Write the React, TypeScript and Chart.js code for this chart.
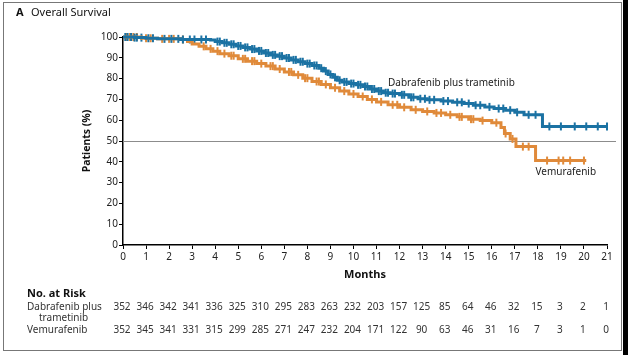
import React, { useEffect, useRef } from "react";
import { Chart, registerables } from "chart.js";

Chart.register(...registerables);

// ---- data ----
const monthTicks = [0, 1, 2, 3, 4, 5, 6, 7, 8, 9, 10, 11, 12, 13, 14, 15, 16, 17, 18, 19, 20, 21];
const riskDabTram = [352, 346, 342, 341, 336, 325, 310, 295, 283, 263, 232, 203, 157, 125, 85, 64, 46, 32, 15, 3, 2, 1];
const riskVemu = [352, 345, 341, 331, 315, 299, 285, 271, 247, 232, 204, 171, 122, 90, 63, 46, 31, 16, 7, 3, 1, 0];

const dabTimes = [0, 0.5, 1.0, 1.5, 2.5, 3.8, 4.0, 4.3, 4.6, 4.9, 5.2, 5.5, 5.8, 6.1, 6.4, 6.7, 7.0, 7.3, 7.6, 7.9, 8.2, 8.5, 8.7, 8.9, 9.1, 9.3, 9.5, 9.8, 10.1, 10.4, 10.7, 11.0, 11.3, 11.6, 12.0, 12.4, 12.8, 13.2, 13.8, 14.3, 14.8, 15.2, 15.7, 16.1, 16.6, 17.0, 17.4, 18.2, 21.0];
const dabSurv = [100, 99.7, 99.4, 99.1, 98.8, 98.5, 97.8, 97.2, 96.5, 95.7, 95.0, 94.2, 93.3, 92.3, 91.4, 90.8, 89.9, 89.0, 88.1, 87.2, 86.3, 85.0, 83.6, 82.0, 80.6, 79.2, 78.4, 77.6, 77.0, 76.2, 75.0, 74.0, 73.2, 72.8, 72.2, 71.0, 70.3, 69.8, 69.2, 68.6, 68.0, 67.2, 66.4, 65.6, 64.8, 63.8, 62.6, 57.0, 57.0];

const vemTimes = [0, 0.8, 1.5, 2.5, 2.8, 3.0, 3.3, 3.6, 3.9, 4.2, 4.6, 5.0, 5.4, 5.8, 6.2, 6.6, 7.0, 7.4, 7.8, 8.2, 8.6, 9.0, 9.4, 9.8, 10.2, 10.6, 11.0, 11.5, 12.0, 12.5, 13.0, 13.5, 14.0, 14.5, 15.0, 15.5, 16.0, 16.4, 16.55, 16.8, 17.05, 17.9, 20.1];
const vemSurv = [100, 99.4, 99.1, 98.8, 97.8, 96.6, 95.5, 94.3, 93.2, 92.0, 91.0, 89.5, 88.4, 87.2, 86.0, 84.6, 83.2, 81.8, 80.2, 78.6, 77.2, 75.6, 74.0, 72.6, 71.4, 70.0, 68.8, 67.4, 66.2, 65.0, 64.2, 63.5, 62.6, 61.6, 60.5, 59.8, 58.8, 56.5, 53.6, 51.0, 47.3, 40.6, 40.6];

const dabCensor = [0.1, 0.2, 0.35, 0.5, 0.6, 0.8, 1.1, 1.3, 1.8, 2.1, 2.4, 2.6, 2.9, 3.1, 3.4, 3.6, 4.1, 4.2, 4.4, 4.5, 4.7, 4.8, 5.0, 5.1, 5.3, 5.4, 5.6, 5.7, 5.9, 6.0, 6.2, 6.3, 6.5, 6.6, 6.8, 6.9, 7.1, 7.2, 7.4, 7.5, 7.7, 7.8, 8.0, 8.1, 8.3, 8.4, 8.6, 8.8, 9.0, 9.2, 9.4, 9.6, 9.7, 9.9, 10.0, 10.2, 10.3, 10.5, 10.6, 10.8, 10.9, 11.1, 11.2, 11.4, 11.5, 11.7, 11.8, 12.1, 12.2, 12.5, 12.6, 12.9, 13.1, 13.3, 13.5, 13.9, 14.1, 14.5, 14.7, 15.0, 15.3, 15.5, 15.9, 16.3, 16.5, 16.8, 17.1, 17.6, 17.9, 18.5, 19.0, 19.6, 20.1, 20.6, 21.0];
const vemCensor = [0.15, 0.3, 0.45, 0.6, 1.0, 1.2, 1.7, 2.0, 2.2, 2.6, 3.5, 3.8, 4.1, 4.4, 4.7, 4.8, 5.2, 5.3, 5.6, 5.7, 6.0, 6.4, 6.5, 6.8, 7.2, 7.3, 7.6, 7.9, 8.0, 8.4, 8.5, 8.8, 9.2, 9.6, 10.0, 10.4, 10.8, 11.2, 11.7, 11.9, 12.2, 12.7, 13.2, 13.6, 13.8, 14.2, 14.6, 14.7, 15.1, 15.2, 15.6, 16.2, 16.6, 16.9, 17.35, 17.6, 18.4, 18.9, 19.1, 19.4, 20.0];

const refLine = 50;
const BLUE = "#1b72a3";
const ORANGE = "#e08a3a";
const FONT = "'Noto Sans', 'Liberation Sans', sans-serif";

function stepValue(times: number[], surv: number[], t: number) {
  let v = surv[0];
  for (let i = 0; i < times.length; i++) {
    if (times[i] <= t) v = surv[i];
  }
  return v;
}

const pts = (times: number[], surv: number[]) => times.map((t, i) => ({ x: t, y: surv[i] }));
const cens = (c: number[], times: number[], surv: number[]) => c.map((t) => ({ x: t, y: stepValue(times, surv, t) }));

const overlay = {
  id: "overlay",
  beforeDatasetsDraw(chart: any) {
    const { ctx, chartArea, scales } = chart;
    const py = Math.round(scales.y.getPixelForValue(refLine)) + 0.5;
    ctx.save();
    ctx.strokeStyle = "#8c8c8c";
    ctx.lineWidth = 1;
    ctx.beginPath();
    ctx.moveTo(chartArea.left, py);
    ctx.lineTo(chartArea.right + 9, py);
    ctx.stroke();
    ctx.restore();
  },
  afterDraw(chart: any) {
    const { ctx, scales } = chart;
    const x = scales.x;
    const y = scales.y;
    ctx.save();
    // frame
    ctx.strokeStyle = "#777";
    ctx.lineWidth = 1;
    ctx.strokeRect(3.5, 2.5, 618, 348);
    ctx.fillStyle = "#000";
    ctx.fillRect(623, 0, 5, 355);
    // title
    ctx.fillStyle = "#111";
    ctx.textBaseline = "middle";
    ctx.textAlign = "left";
    ctx.font = `bold 11px ${FONT}`;
    ctx.fillText("A", 16, 13);
    ctx.font = `11px ${FONT}`;
    ctx.fillText("Overall Survival", 31, 13);
    // curve labels
    ctx.font = `10px ${FONT}`;
    ctx.fillStyle = "#222";
    ctx.fillText("Dabrafenib plus trametinib", x.getPixelForValue(11.5), y.getPixelForValue(77.8));
    ctx.fillText("Vemurafenib", x.getPixelForValue(17.9), y.getPixelForValue(34.8));
    // risk table
    ctx.font = `bold 11px ${FONT}`;
    ctx.fillStyle = "#111";
    ctx.fillText("No. at Risk", 27, 294);
    ctx.font = `10px ${FONT}`;
    ctx.fillStyle = "#333";
    ctx.fillText("Dabrafenib plus", 27, 307);
    ctx.fillText("trametinib", 39, 318);
    ctx.fillText("Vemurafenib", 27, 330);
    ctx.textAlign = "center";
    monthTicks.forEach((m, i) => {
      const px = x.getPixelForValue(m) - 1;
      ctx.fillText(String(riskDabTram[i]), px, 307);
      ctx.fillText(String(riskVemu[i]), px, 330);
    });
    ctx.restore();
  },
};

export default function App() {
  const ref = useRef<HTMLCanvasElement>(null);
  useEffect(() => {
    if (!ref.current) return;
    const chart = new Chart(ref.current, {
      type: "line",
      data: {
        datasets: [
          {
            label: "Dabrafenib plus trametinib",
            data: pts(dabTimes, dabSurv),
            borderColor: BLUE,
            borderWidth: 3,
            stepped: "before",
            pointRadius: 0,
            fill: false,
            clip: 8,
          } as any,
          {
            label: "Vemurafenib",
            data: pts(vemTimes, vemSurv),
            borderColor: ORANGE,
            borderWidth: 3,
            stepped: "before",
            pointRadius: 0,
            fill: false,
            clip: 8,
          } as any,
          {
            label: "DT censor",
            data: cens(dabCensor, dabTimes, dabSurv),
            showLine: false,
            pointStyle: "line",
            rotation: 90,
            pointRadius: 4,
            borderColor: BLUE,
            borderWidth: 2,
            clip: 8,
          } as any,
          {
            label: "V censor",
            data: cens(vemCensor, vemTimes, vemSurv),
            showLine: false,
            pointStyle: "line",
            rotation: 90,
            pointRadius: 4,
            borderColor: ORANGE,
            borderWidth: 2,
            clip: 8,
          } as any,
        ],
      },
      options: {
        responsive: false,
        animation: false,
        layout: { padding: { left: 77, top: 37, right: 21, bottom: 70 } },
        plugins: { legend: { display: false }, tooltip: { enabled: false }, title: { display: false } },
        scales: {
          x: {
            type: "linear",
            min: 0,
            max: 21,
            afterFit: (s: any) => {
              s.height = 40;
            },
            ticks: { stepSize: 1, color: "#222", font: { family: FONT, size: 10 }, padding: 2, maxRotation: 0 },
            grid: { drawOnChartArea: false, tickLength: 4, color: "#000", tickColor: "#000" },
            border: { color: "#000", width: 1.5 },
            title: { display: true, text: "Months", color: "#111", font: { family: FONT, size: 11, weight: "bold" }, padding: 4 },
          },
          y: {
            min: 0,
            max: 100,
            afterFit: (s: any) => {
              s.width = 46;
            },
            ticks: { stepSize: 10, color: "#222", font: { family: FONT, size: 10 }, padding: 1 },
            grid: { drawOnChartArea: false, tickLength: 4, color: "#000", tickColor: "#000" },
            border: { color: "#000", width: 1.5 },
            title: { display: true, text: "Patients (%)", color: "#111", font: { family: FONT, size: 10.5, weight: "bold" }, padding: 4 },
          },
        },
      } as any,
      plugins: [overlay],
    });
    return () => chart.destroy();
  }, []);
  return (
    <div style={{ position: "absolute", left: 0, top: 0, width: 628, height: 355, background: "#fff" }}>
      <canvas ref={ref} width={628} height={355} style={{ display: "block" }} />
    </div>
  );
}
